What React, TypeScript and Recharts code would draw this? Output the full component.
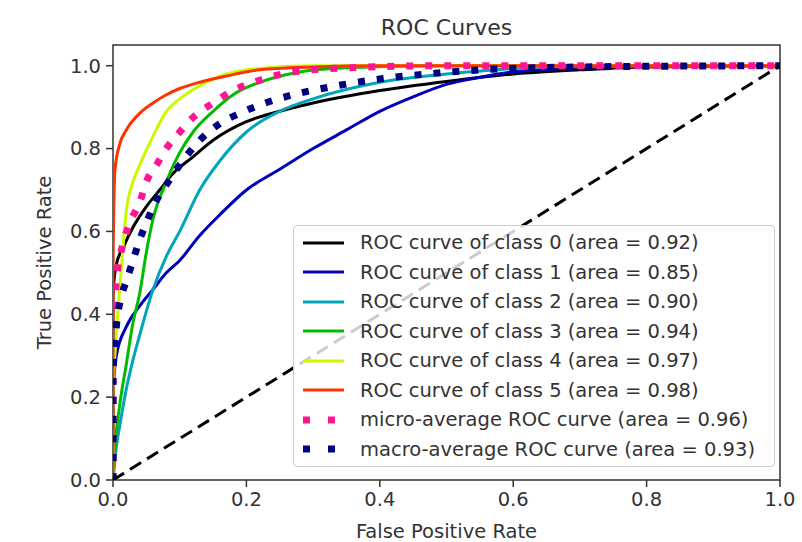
import { LineChart, Line, XAxis, YAxis, ReferenceArea, Legend } from "recharts"

type Pt = [number, number]

// [fpr, tpr]
const class0: Pt[] = [
  [0, 0], [0, 0.45], [0.005, 0.52], [0.015, 0.56], [0.03, 0.61], [0.05, 0.66],
  [0.07, 0.7], [0.09, 0.74], [0.12, 0.78], [0.15, 0.82], [0.2, 0.865], [0.25, 0.89],
  [0.3, 0.91], [0.4, 0.94], [0.5, 0.962], [0.6, 0.98], [0.7, 0.99], [0.8, 0.997], [1, 1],
]
const class1: Pt[] = [
  [0, 0], [0, 0.2], [0.005, 0.3], [0.02, 0.37], [0.04, 0.42], [0.06, 0.46], [0.08, 0.5],
  [0.1, 0.53], [0.13, 0.59], [0.16, 0.64], [0.2, 0.7], [0.25, 0.75], [0.3, 0.8],
  [0.35, 0.845], [0.4, 0.89], [0.45, 0.925], [0.5, 0.955], [0.55, 0.972], [0.6, 0.985],
  [0.7, 0.995], [0.8, 1], [1, 1],
]
const class2: Pt[] = [
  [0, 0], [0.005, 0.08], [0.01, 0.13], [0.02, 0.22], [0.03, 0.29], [0.04, 0.35],
  [0.06, 0.46], [0.08, 0.54], [0.1, 0.6], [0.13, 0.7], [0.16, 0.77], [0.2, 0.84],
  [0.25, 0.89], [0.3, 0.92], [0.4, 0.96], [0.5, 0.98], [0.6, 0.993], [0.7, 1], [1, 1],
]
const class3: Pt[] = [
  [0, 0], [0.003, 0.08], [0.01, 0.18], [0.02, 0.28], [0.03, 0.38], [0.04, 0.45],
  [0.05, 0.55], [0.06, 0.63], [0.08, 0.72], [0.1, 0.79], [0.12, 0.84], [0.15, 0.89],
  [0.18, 0.93], [0.22, 0.96], [0.28, 0.985], [0.35, 0.995], [0.5, 1], [1, 1],
]
const class4: Pt[] = [
  [0, 0], [0, 0.2], [0.005, 0.35], [0.012, 0.5], [0.02, 0.65], [0.03, 0.72],
  [0.04, 0.76], [0.06, 0.83], [0.08, 0.89], [0.1, 0.92], [0.14, 0.96], [0.2, 0.99],
  [0.3, 1], [1, 1],
]
const class5: Pt[] = [
  [0, 0], [0, 0.5], [0.003, 0.75], [0.01, 0.81], [0.02, 0.845], [0.04, 0.885],
  [0.06, 0.91], [0.08, 0.93], [0.1, 0.945], [0.13, 0.96], [0.17, 0.975], [0.22, 0.99],
  [0.3, 0.997], [0.4, 1], [1, 1],
]
const microAvg: Pt[] = [
  [0, 0], [0, 0.35], [0.005, 0.48], [0.015, 0.57], [0.025, 0.62], [0.04, 0.67],
  [0.05, 0.72], [0.065, 0.76], [0.08, 0.8], [0.1, 0.84], [0.12, 0.875], [0.15, 0.91],
  [0.18, 0.94], [0.22, 0.965], [0.27, 0.985], [0.35, 0.995], [0.5, 1], [1, 1],
]
const macroAvg: Pt[] = [
  [0, 0], [0, 0.25], [0.005, 0.37], [0.012, 0.44], [0.02, 0.48], [0.03, 0.53],
  [0.04, 0.58], [0.05, 0.62], [0.06, 0.66], [0.075, 0.7], [0.1, 0.76], [0.13, 0.82],
  [0.16, 0.86], [0.19, 0.885], [0.22, 0.905], [0.27, 0.93], [0.33, 0.95], [0.4, 0.968],
  [0.47, 0.98], [0.55, 0.99], [0.7, 0.997], [1, 1],
]
const chance: Pt[] = [[0, 0], [1, 1]]

const classAreas = ["0.92", "0.85", "0.90", "0.94", "0.97", "0.98"]
const microArea = "0.96"
const macroArea = "0.93"
const axisTicks = [0, 0.2, 0.4, 0.6, 0.8, 1.0]

const FONT = "DejaVu Sans"
const TEXT = "#333333"

const toRows = (pts: Pt[]) => pts.map(([fpr, tpr]) => ({ fpr, tpr }))

const classCurves = [class0, class1, class2, class3, class4, class5]
const classColors = ["#000000", "#0000bb", "#00a4bb", "#00bb00", "#ccf900", "#ff3300"]

const series = [
  ...classCurves.map((pts, i) => ({
    key: `class${i}`,
    label: `ROC curve of class ${i} (area = ${classAreas[i]})`,
    rows: toRows(pts),
    color: classColors[i],
    width: 3,
    dash: undefined as string | undefined,
    legendDash: undefined as string | undefined,
  })),
  {
    key: "micro",
    label: `micro-average ROC curve (area = ${microArea})`,
    rows: toRows(microAvg),
    color: "#ff1493",
    width: 7,
    dash: "7 12",
    legendDash: "7 18",
  },
  {
    key: "macro",
    label: `macro-average ROC curve (area = ${macroArea})`,
    rows: toRows(macroAvg),
    color: "#000080",
    width: 7,
    dash: "7 12",
    legendDash: "7 18",
  },
]

function RocLegend() {
  return (
    <div
      style={{
        width: 482,
        boxSizing: "border-box",
        border: "1px solid #cccccc",
        borderRadius: 4,
        background: "rgba(255,255,255,0.8)",
        padding: "2px 0",
        fontFamily: FONT,
        fontSize: 19.5,
        color: TEXT,
      }}
    >
      {series.map((s) => (
        <div key={s.key} style={{ display: "flex", alignItems: "center", height: 29.5 }}>
          <svg width={66} height={12} style={{ flex: "none" }}>
            <line
              x1={9}
              x2={50}
              y1={6}
              y2={6}
              stroke={s.color}
              strokeWidth={s.width}
              strokeDasharray={s.legendDash}
            />
          </svg>
          <span style={{ whiteSpace: "nowrap" }}>{s.label}</span>
        </div>
      ))}
    </div>
  )
}

const xLabel = (props: any) => {
  const { x, y, width } = props.viewBox
  return (
    <text x={x + width / 2} y={y + 58} textAnchor="middle" fontFamily={FONT} fontSize={19.5} fill={TEXT}>
      False Positive Rate
    </text>
  )
}

const yLabel = (props: any) => {
  const { x, y, height } = props.viewBox
  const cx = x + 44
  const cy = y + height / 2
  return (
    <text
      x={cx}
      y={cy}
      transform={`rotate(-90 ${cx} ${cy})`}
      textAnchor="middle"
      dominantBaseline="central"
      fontFamily={FONT}
      fontSize={19.5}
      fill={TEXT}
    >
      True Positive Rate
    </text>
  )
}

export default function App() {
  return (
    <div style={{ position: "absolute", left: 0, top: 0, width: 802, height: 542, background: "#fff" }}>
      <div
        style={{
          position: "absolute",
          left: 113,
          width: 667,
          top: 14,
          textAlign: "center",
          fontFamily: FONT,
          fontSize: 22,
          lineHeight: "28px",
          color: TEXT,
        }}
      >
        ROC Curves
      </div>
      <LineChart
        width={802}
        height={542}
        margin={{ top: 45, right: 22, left: 0, bottom: 0 }}
        style={{ fontFamily: FONT }}
      >
        <XAxis
          type="number"
          dataKey="fpr"
          domain={[0, 1]}
          ticks={axisTicks}
          tickFormatter={(v: number) => v.toFixed(1)}
          height={62}
          axisLine={false}
          tickLine={{ stroke: TEXT, strokeWidth: 1.5 }}
          tickSize={7}
          tickMargin={5}
          tick={{ fill: TEXT, fontSize: 19.5, fontFamily: FONT }}
          allowDataOverflow
          label={{ content: xLabel }}
        />
        <YAxis
          type="number"
          dataKey="tpr"
          domain={[0, 1.05]}
          ticks={axisTicks}
          tickFormatter={(v: number) => v.toFixed(1)}
          width={113}
          axisLine={false}
          tickLine={{ stroke: TEXT, strokeWidth: 1.5 }}
          tickSize={7}
          tickMargin={5}
          tick={{ fill: TEXT, fontSize: 19.5, fontFamily: FONT }}
          allowDataOverflow
          label={{ content: yLabel }}
        />
        {series.map((s) => (
          <Line
            key={s.key}
            data={s.rows}
            dataKey="tpr"
            name={s.label}
            type="monotoneX"
            stroke={s.color}
            strokeWidth={s.width}
            strokeDasharray={s.dash}
            dot={false}
            activeDot={false}
            isAnimationActive={false}
          />
        ))}
        <Line
          data={toRows(chance)}
          dataKey="tpr"
          type="linear"
          stroke="#000000"
          strokeWidth={3}
          strokeDasharray="13 7"
          dot={false}
          activeDot={false}
          legendType="none"
          isAnimationActive={false}
        />
        <ReferenceArea
          x1={0}
          x2={1}
          y1={0}
          y2={1.05}
          fill="none"
          stroke={TEXT}
          strokeWidth={1.5}
          ifOverflow="visible"
        />
        <Legend
          layout="vertical"
          align="center"
          verticalAlign="middle"
          content={() => <RocLegend />}
          wrapperStyle={{ left: 293, top: 225, width: 482 }}
        />
      </LineChart>
    </div>
  )
}
